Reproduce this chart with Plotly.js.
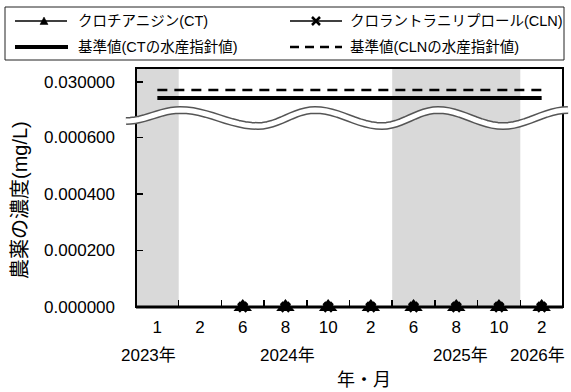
<!DOCTYPE html>
<html><head><meta charset="utf-8">
<script src="https://cdn.plot.ly/plotly-3.0.1.min.js"></script>
<style>html,body{margin:0;padding:0;background:#fff;}#chart{width:571px;height:392px;}</style>
</head><body><div id="chart"></div>
<script>
// ---- data ----
const xIndex = [0,1,2,3,4,5,6,7,8,9];
const monthLabels = ['1','2','6','8','10','2','6','8','10','2'];
const yearLabels = ['2023年','2024年','2025年','2026年'];
const ctValues  = [null,null,0,0,0,0,0,0,0,0];
const clnValues = [null,null,0,0,0,0,0,0,0,0];
const ctGuide  = [0.028,0.028,0.028,0.028,0.028,0.028,0.028,0.028,0.028,0.028];
const clnGuide = [0.029,0.029,0.029,0.029,0.029,0.029,0.029,0.029,0.029,0.029];
const seriesNames = ['クロチアニジン(CT)','クロラントラニリプロール(CLN)','基準値(CTの水産指針値)','基準値(CLNの水産指針値)'];
const shadedRanges = [[-0.5,0.5],[5.5,8.5]];

// ---- layout geometry (pixels) ----
const ML=136, MR=8, MT=68, MB=85, W=571, H=392;
const PW=W-ML-MR, PH=H-MT-MB;
const px = x => (x-ML)/PW;
const py = y => (H-MB-y)/PH;
const BREAK = py(125);

const FONT = 'Liberation Sans, Arial, Noto Sans CJK JP, sans-serif';

const traces = [
  {x:xIndex, y:ctValues, name:seriesNames[0], mode:'lines+markers', yaxis:'y', cliponaxis:false,
   line:{color:'#000',width:2}, marker:{symbol:'triangle-up',size:16,color:'#000',line:{width:0}}},
  {x:xIndex, y:clnValues, name:seriesNames[1], mode:'lines+markers', yaxis:'y', cliponaxis:false,
   line:{color:'#000',width:2}, marker:{symbol:'x',size:10,color:'#000',line:{width:0}}},
  {x:xIndex, y:ctGuide, name:seriesNames[2], mode:'lines', yaxis:'y2',
   line:{color:'#000',width:4}},
  {x:xIndex, y:clnGuide, name:seriesNames[3], mode:'lines', yaxis:'y2',
   line:{color:'#000',width:2.5,dash:'10px,7px'}}
];

// wave break decoration (pixel control points: x, centre y)
const waveExt = [[126,121],[180,110],[258,126],[315,110],[382,126],[438,110],[503,126],[568,110]];
let wavePts = [];
for (let i=0;i<waveExt.length-1;i++){
  const [x0,y0]=waveExt[i],[x1,y1]=waveExt[i+1];
  for (let k=0;k<12;k++){
    const t=k/12; const x=x0+(x1-x0)*t; const y=y0+(y1-y0)*(1-Math.cos(Math.PI*t))/2;
    wavePts.push([x,y]);
  }
}
wavePts.push(waveExt[waveExt.length-1]);
const wavePath = 'M'+wavePts.map(p=>px(p[0]).toFixed(5)+','+py(p[1]).toFixed(5)).join(' L');

const shapes = [];
shadedRanges.forEach(r=>shapes.push({type:'rect',xref:'x',yref:'paper',x0:r[0],x1:r[1],y0:0,y1:1,
  fillcolor:'#d9d9d9',line:{width:0},layer:'below'}));
// frame
shapes.push({type:'rect',xref:'paper',yref:'paper',x0:0,x1:1,y0:0,y1:1,line:{color:'#000',width:2},layer:'below'});
shapes.push({type:'line',xref:'paper',yref:'paper',x0:0,x1:1,y0:0,y1:0,line:{color:'#000',width:3},layer:'below'});
// wave
shapes.push({type:'path',xref:'paper',yref:'paper',path:wavePath,line:{color:'#555',width:8},layer:'above'});
shapes.push({type:'path',xref:'paper',yref:'paper',path:wavePath,line:{color:'#fff',width:5},layer:'above'});

// legend (manual)
const LR1=21, LR2=47;
shapes.push({type:'rect',xref:'paper',yref:'paper',x0:px(5),x1:px(564),y0:py(60),y1:py(7),line:{color:'#222',width:1},fillcolor:'#fff'});
shapes.push({type:'line',xref:'paper',yref:'paper',x0:px(15),x1:px(67),y0:py(LR1),y1:py(LR1),line:{color:'#000',width:1.5}});
shapes.push({type:'path',xref:'paper',yref:'paper',path:`M${px(40)},${py(LR1+3.5)} L${px(48)},${py(LR1+3.5)} L${px(44)},${py(LR1-4)} Z`,fillcolor:'#000',line:{color:'#000',width:0.5}});
shapes.push({type:'line',xref:'paper',yref:'paper',x0:px(290),x1:px(342),y0:py(LR1),y1:py(LR1),line:{color:'#000',width:1.5}});
shapes.push({type:'path',xref:'paper',yref:'paper',path:`M${px(312)},${py(LR1-4)} L${px(320)},${py(LR1+4)} M${px(320)},${py(LR1-4)} L${px(312)},${py(LR1+4)}`,line:{color:'#000',width:2.5}});
shapes.push({type:'line',xref:'paper',yref:'paper',x0:px(15),x1:px(68),y0:py(LR2),y1:py(LR2),line:{color:'#000',width:4}});
shapes.push({type:'line',xref:'paper',yref:'paper',x0:px(290),x1:px(342),y0:py(LR2),y1:py(LR2),line:{color:'#000',width:2.5,dash:'9px,6px'}});

const annotations = [];
const legTxt = [[76,LR1,seriesNames[0]],[348,LR1,seriesNames[1]],[76,LR2,seriesNames[2]],[348,LR2,seriesNames[3]]];
legTxt.forEach(([x,y,t])=>annotations.push({xref:'paper',yref:'paper',x:px(x),y:py(y),xanchor:'left',yanchor:'middle',
  text:t,showarrow:false,font:{family:FONT,size:14.5,color:'#000'}}));
const yearPos = [148,287,460,537];
yearLabels.forEach((t,i)=>annotations.push({xref:'paper',yref:'paper',x:px(yearPos[i]),y:py(355),xanchor:'center',yanchor:'middle',
  text:t,showarrow:false,font:{family:FONT,size:17,color:'#000'}}));
annotations.push({xref:'paper',yref:'paper',x:px(364),y:py(380),xanchor:'center',yanchor:'middle',text:'年・月',showarrow:false,
  font:{family:FONT,size:18,color:'#000'}});
annotations.push({xref:'paper',yref:'paper',x:px(20),y:py(200),xanchor:'center',yanchor:'middle',textangle:-90,text:'農薬の濃度(mg/L)',showarrow:false,
  font:{family:FONT,size:20,color:'#000'}});

const layout = {
  width:W, height:H, margin:{l:ML,r:MR,t:MT,b:MB,pad:0},
  paper_bgcolor:'#fff', plot_bgcolor:'#fff', showlegend:false,
  font:{family:FONT,size:17,color:'#000'},
  xaxis:{range:[-0.5,9.5], tickmode:'array', tickvals:xIndex, ticktext:monthLabels, ticks:'',
    showgrid:false, zeroline:false, showline:false, ticklabelstandoff:8,
    minor:{tick0:0.5,dtick:1,ticks:'inside',ticklen:7,tickcolor:'#000',tickwidth:1.5,showgrid:false},
    tickfont:{family:FONT,size:17,color:'#000'}},
  yaxis:{domain:[0,BREAK], range:[0,0.000644], tickmode:'array', tickvals:[0,0.0002,0.0004,0.0006], tickformat:'.6f',
    ticks:'inside', ticklen:7, tickcolor:'#000', tickwidth:1.5, showgrid:false, zeroline:false, showline:false,
    ticklabelstandoff:20, tickfont:{family:FONT,size:17,color:'#000'}},
  yaxis2:{domain:[BREAK,1], range:[0.024625,0.03175], anchor:'x', tickmode:'array', tickvals:[0.03], tickformat:'.6f',
    ticks:'inside', ticklen:7, tickcolor:'#000', tickwidth:1.5, showgrid:false, zeroline:false, showline:false,
    ticklabelstandoff:20, tickfont:{family:FONT,size:17,color:'#000'}},
  shapes, annotations
};
Plotly.newPlot('chart', traces, layout, {staticPlot:true, displayModeBar:false});
</script></body></html>
